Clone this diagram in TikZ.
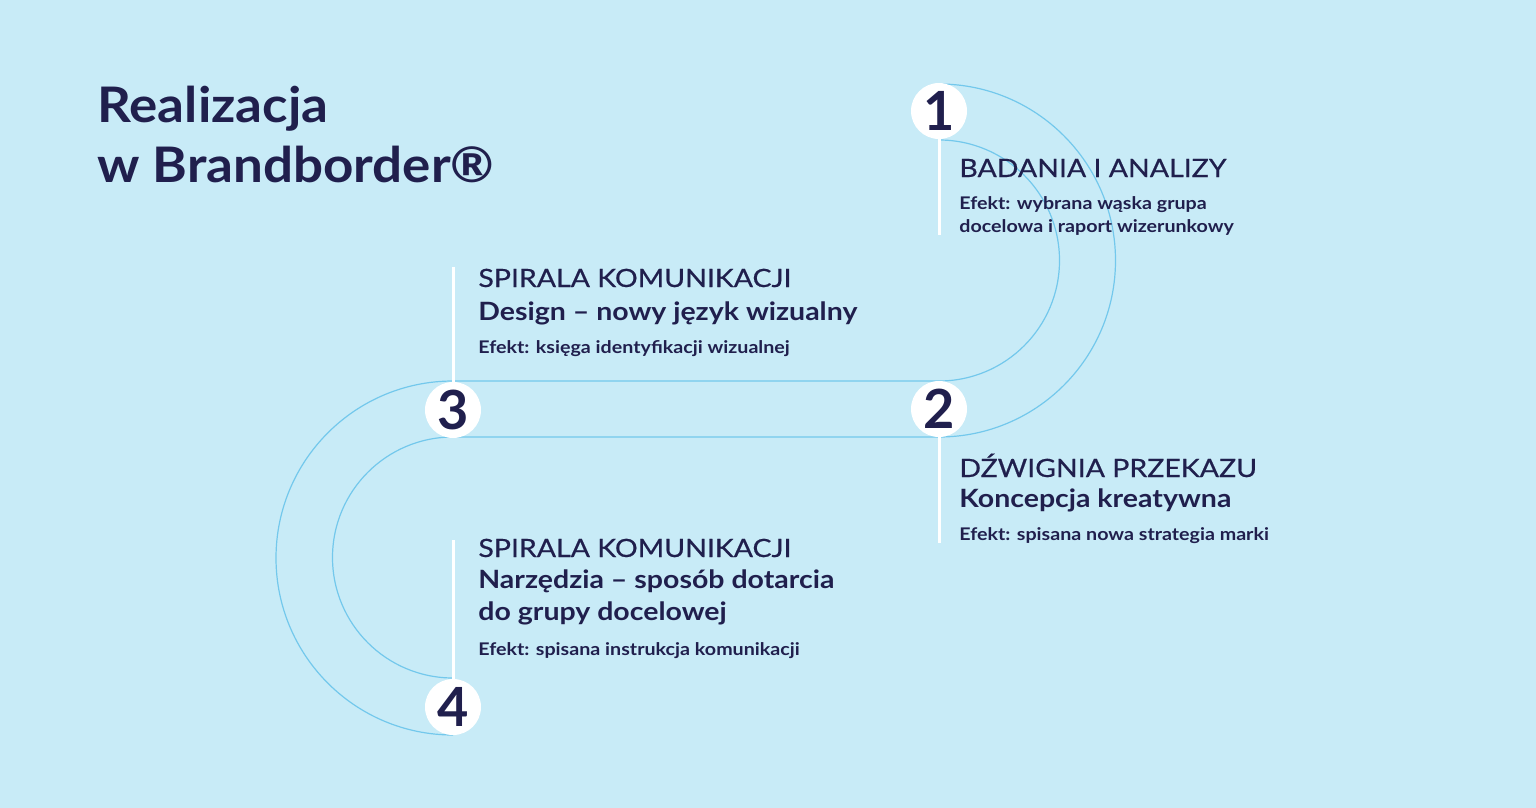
\documentclass[tikz,border=0pt]{standalone}
\usepackage{fontspec}
\setmainfont{Lato}
\newfontfamily\widefont{Lato}[FakeStretch=1.13]
\newfontfamily\headfont{Lato}[FakeStretch=1.13,FakeBold=0.5]
\newfontfamily\titlefont{Lato}[FakeStretch=1.08]
\usepackage{xcolor}
\usepackage{tikz}

\definecolor{bgblue}{RGB}{200,235,247}
\definecolor{trackblue}{RGB}{115,200,236}
\definecolor{navy}{RGB}{32,31,77}

\tikzset{
  stepnum/.style={circle,fill=white,minimum size=28pt,inner sep=0pt,
    text=navy,font=\fontsize{27}{27}\selectfont\bfseries},
  heading/.style={anchor=base west,inner sep=0pt,text=navy,
    font=\headfont\fontsize{12.6}{15}\selectfont},
  subhead/.style={anchor=base west,inner sep=0pt,text=navy,
    font=\widefont\fontsize{12.6}{15}\selectfont\bfseries},
  efekt/.style={anchor=base west,inner sep=0pt,text=navy,
    font=\widefont\fontsize{8.7}{10}\selectfont\bfseries},
  track/.style={draw=trackblue,line width=0.6pt},
  stem/.style={draw=white,line width=1.5pt}
}

\begin{document}
\begin{tikzpicture}[x=0.5pt,y=-0.5pt]
\useasboundingbox (0,0) rectangle (1536,808);
\fill[bgblue] (0,0) rectangle (1536,808);

% title
\node[anchor=base west,inner sep=0pt,text=navy,font=\titlefont\fontsize{24.5}{29}\selectfont\bfseries]
  (title1) at (97,123) {Realizacja};
\node[anchor=base west,inner sep=0pt,text=navy,font=\titlefont\fontsize{24.5}{29}\selectfont\bfseries]
  (title2) at (97,183) {w Brandborder®};

% the band
\draw[track] (939,84) arc[start angle=-90,end angle=90,radius=176.5]
  -- (453,437) arc[start angle=-90,end angle=-270,radius=120.5];
\draw[track] (939,140) arc[start angle=-90,end angle=90,radius=120.5]
  -- (453,381) arc[start angle=-90,end angle=-270,radius=177];

% stems
\coordinate (e1) at (939,235);
\coordinate (e2) at (939,543);
\coordinate (e3) at (453,267);
\coordinate (e4) at (453,540);

\node[stepnum] (n1) at (939,111) {1};
\node[stepnum] (n2) at (939,409) {2};
\node[stepnum] (n3) at (453,410) {3};
\node[stepnum] (n4) at (453,707) {4};

\draw[stem] (n1.south) -- (e1);
\draw[stem] (n2.south) -- (e2);
\draw[stem] (n3.north) -- (e3);
\draw[stem] (n4.north) -- (e4);

% step 1
\node[heading] (h1) at (959,177) {BADANIA I ANALIZY};
\node[efekt] (f1a) at (959,209) {Efekt: wybrana wąska grupa};
\node[efekt] (f1b) at (959,232) {docelowa i raport wizerunkowy};

% step 2
\node[heading] (h2) at (959,477) {DŹWIGNIA PRZEKAZU};
\node[subhead] (s2) at (959,507) {Koncepcja kreatywna};
\node[efekt] (f2) at (959,540) {Efekt: spisana nowa strategia marki};

% step 3
\node[heading] (h3) at (478,287) {SPIRALA KOMUNIKACJI};
\node[subhead] (s3) at (478,320) {Design – nowy język wizualny};
\node[efekt] (f3) at (478,353) {Efekt: księga identyfikacji wizualnej};

% step 4
\node[heading] (h4) at (478,557) {SPIRALA KOMUNIKACJI};
\node[subhead] (s4a) at (478,588) {Narzędzia – sposób dotarcia};
\node[subhead] (s4b) at (478,620) {do grupy docelowej};
\node[efekt] (f4) at (478,655) {Efekt: spisana instrukcja komunikacji};
\end{tikzpicture}
\end{document}
